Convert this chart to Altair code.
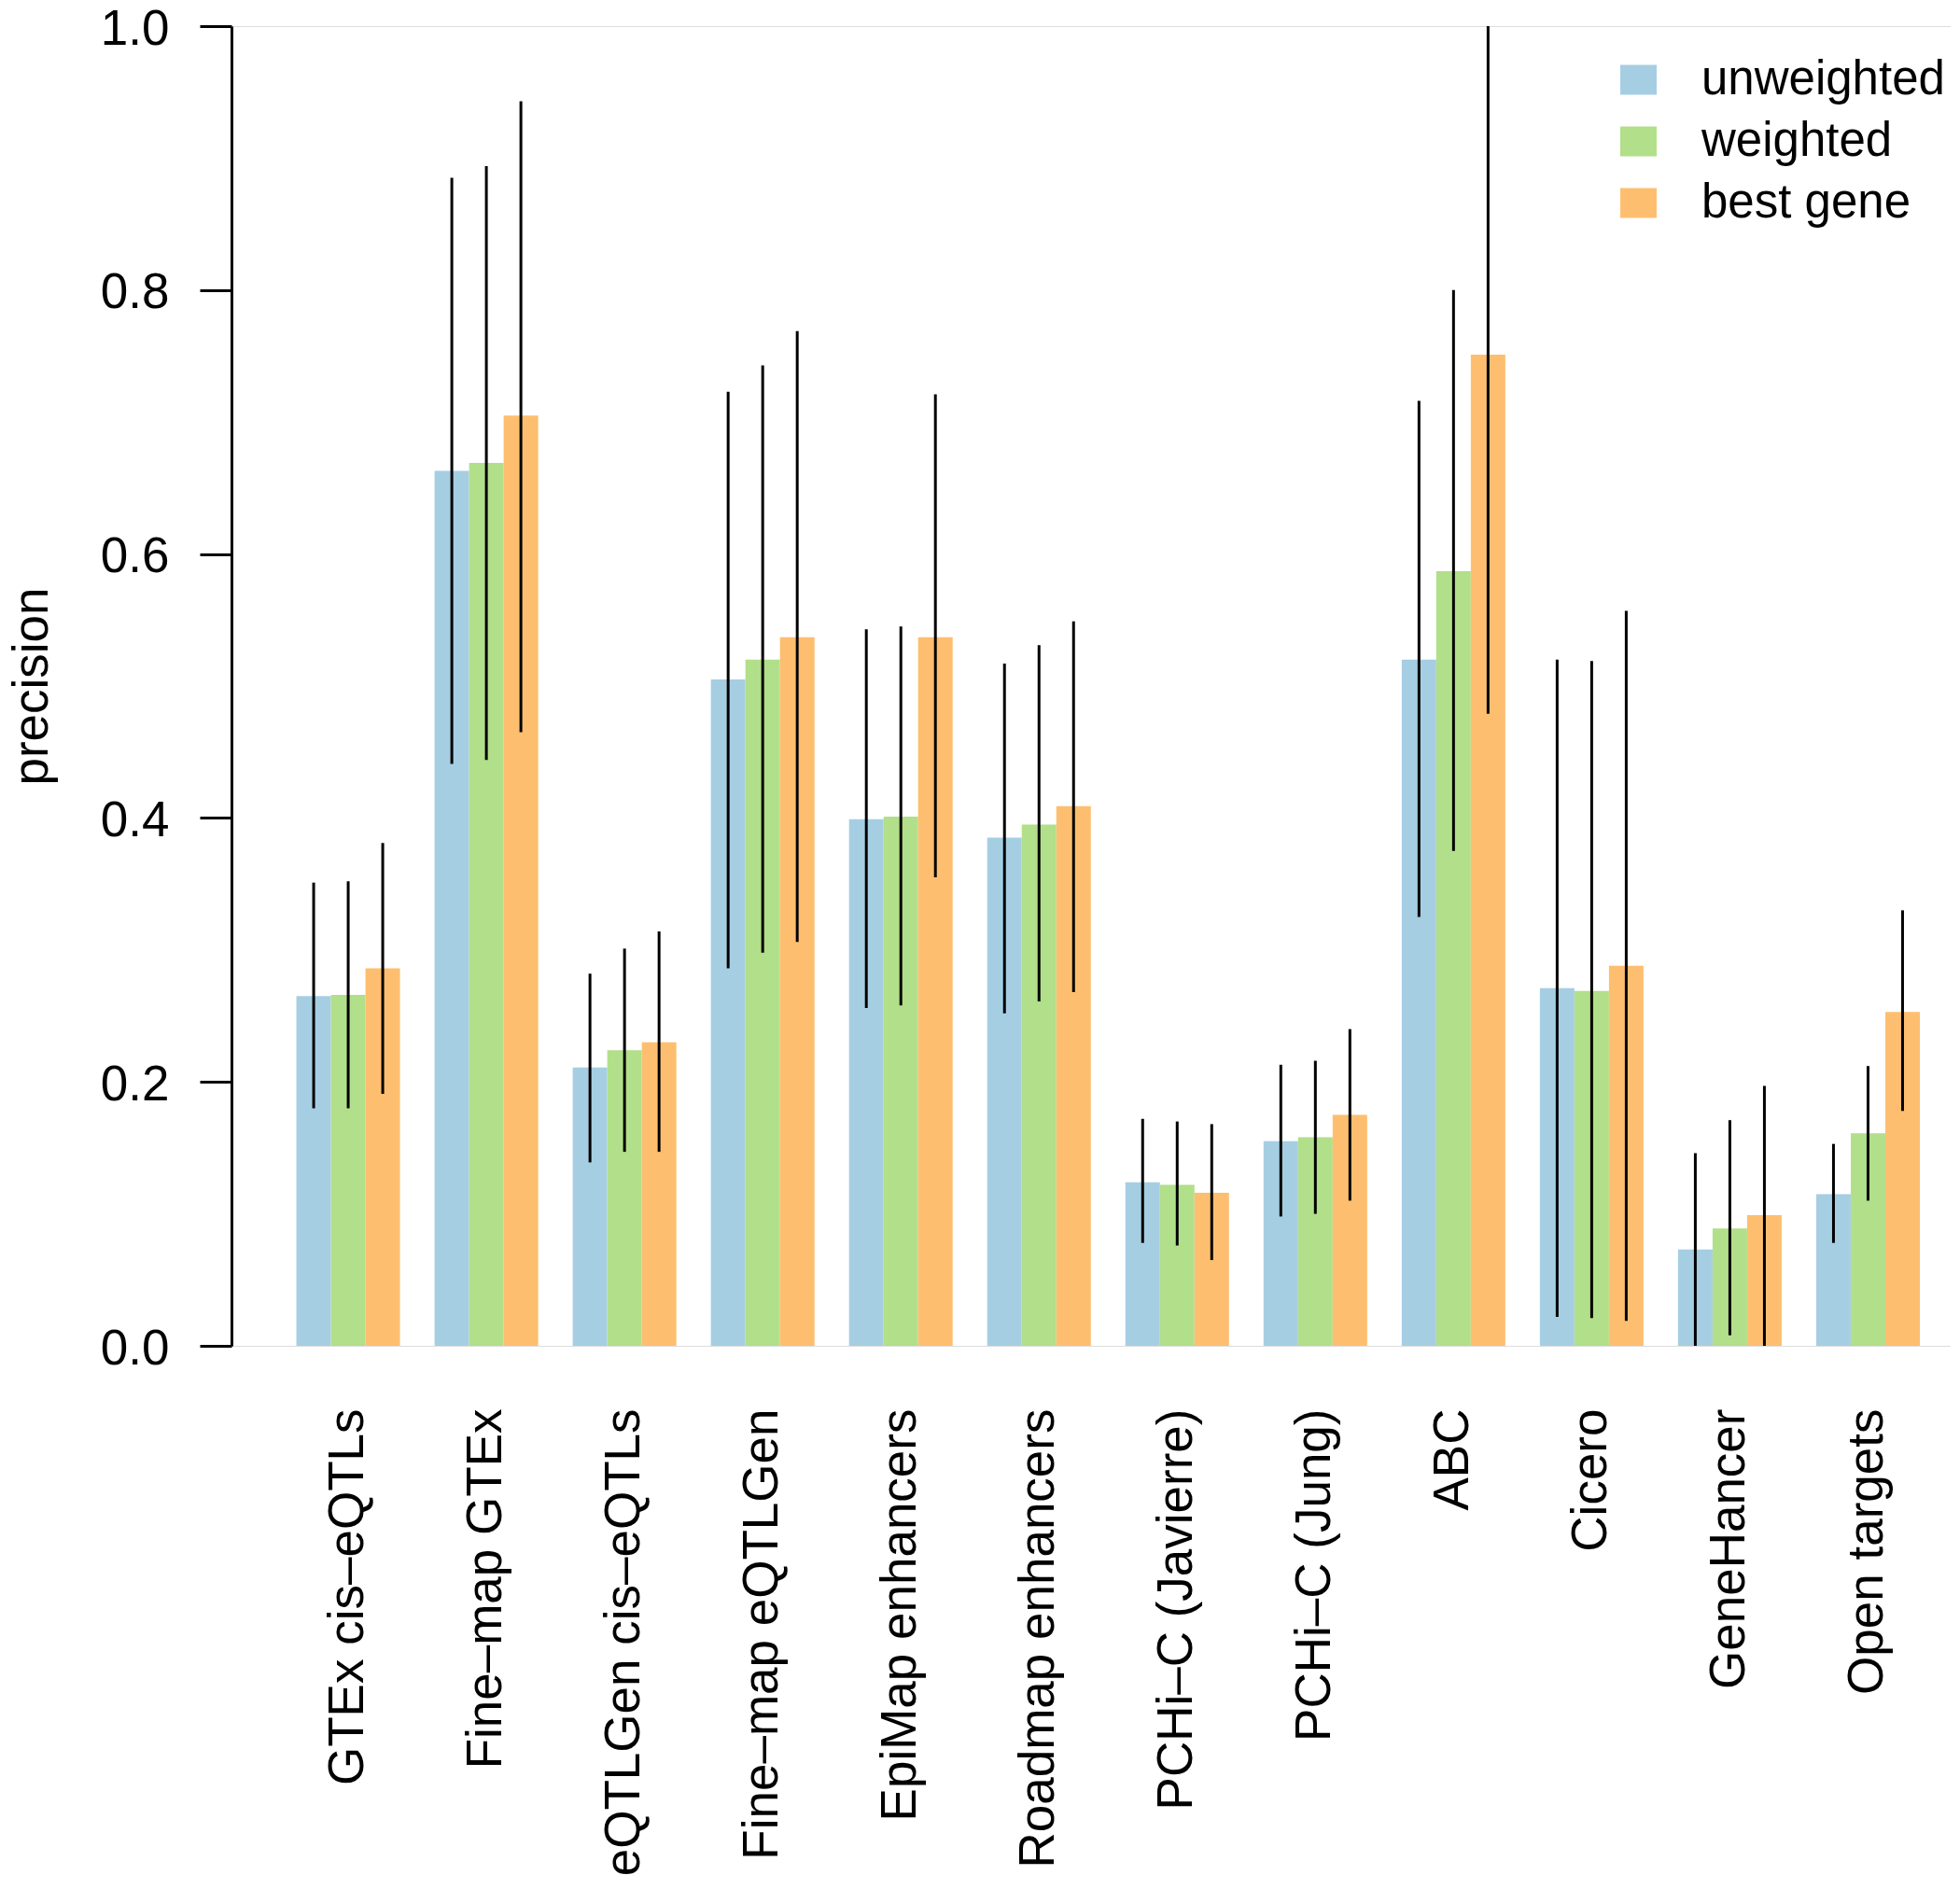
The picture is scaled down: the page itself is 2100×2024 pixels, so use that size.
import altair as alt
import pandas as pd

categories = ["GTEx cis–eQTLs", "Fine–map GTEx", "eQTLGen cis–eQTLs", "Fine–map eQTLGen",
              "EpiMap enhancers", "Roadmap enhancers", "PCHi–C (Javierre)", "PCHi–C (Jung)",
              "ABC", "Cicero", "GeneHancer", "Open targets"]
methods = ["unweighted", "weighted", "best gene"]
colors = ["#A6CEE3", "#B2DF8A", "#FDBF6F"]

unweighted = [0.265, 0.663, 0.211, 0.505, 0.399, 0.385, 0.124, 0.155, 0.520, 0.271, 0.073, 0.115]
unweighted_lo = [0.180, 0.441, 0.139, 0.286, 0.256, 0.252, 0.078, 0.098, 0.325, 0.022, 0.000, 0.078]
unweighted_hi = [0.351, 0.885, 0.282, 0.723, 0.543, 0.517, 0.172, 0.213, 0.716, 0.520, 0.146, 0.153]

weighted = [0.266, 0.669, 0.224, 0.520, 0.401, 0.395, 0.122, 0.158, 0.587, 0.269, 0.089, 0.161]
weighted_lo = [0.180, 0.444, 0.147, 0.298, 0.258, 0.261, 0.076, 0.100, 0.375, 0.021, 0.008, 0.110]
weighted_hi = [0.352, 0.894, 0.301, 0.743, 0.545, 0.531, 0.170, 0.216, 0.800, 0.519, 0.171, 0.212]

best_gene = [0.286, 0.705, 0.230, 0.537, 0.537, 0.409, 0.116, 0.175, 0.751, 0.288, 0.099, 0.253]
best_gene_lo = [0.191, 0.465, 0.147, 0.306, 0.355, 0.268, 0.065, 0.110, 0.479, 0.019, 0.000, 0.178]
best_gene_hi = [0.381, 0.943, 0.314, 0.769, 0.721, 0.549, 0.168, 0.240, 1.000, 0.557, 0.197, 0.330]

series = {
    "unweighted": (unweighted, unweighted_lo, unweighted_hi),
    "weighted": (weighted, weighted_lo, weighted_hi),
    "best gene": (best_gene, best_gene_lo, best_gene_hi),
}
rows = []
for m in methods:
    v, lo, hi = series[m]
    for i, c in enumerate(categories):
        rows.append({"category": c, "method": m, "value": v[i], "lo": lo[i], "hi": hi[i]})
df = pd.DataFrame(rows)

FONT = "Liberation Sans"
FS = 53

base = alt.Chart(df).encode(
    x=alt.X("category:N", sort=categories,
            scale=alt.Scale(paddingInner=0.25, paddingOuter=0.3465, align=0.678),
            axis=alt.Axis(title=None, labelAngle=270, labelAlign="right", labelBaseline="middle",
                          labelPadding=67, ticks=False, tickSize=0, domain=False,
                          labelFontSize=FS, labelFont=FONT, labelColor="black", labelLimit=0)),
    xOffset=alt.XOffset("method:N", sort=methods, scale=alt.Scale(paddingInner=0, paddingOuter=0)),
)

bars = base.mark_bar(opacity=1, strokeWidth=0).encode(
    y=alt.Y("value:Q", scale=alt.Scale(domain=[0, 1], nice=False, zero=True),
            axis=alt.Axis(values=[0, 0.2, 0.4, 0.6, 0.8, 1.0], format=".1f", grid=False,
                          tickSize=34, tickWidth=3, domainWidth=3, tickColor="black",
                          domainColor="black", labelPadding=33, labelFontSize=FS, labelFont=FONT,
                          labelColor="black", labelBaseline="middle", labelOffset=3,
                          title="precision", titleFontSize=FS, titleFont=FONT,
                          titleFontWeight="normal", titleColor="black", titleAngle=270,
                          titleX=-198, titleY=707, titleBaseline="alphabetic", titleAlign="center")),
    color=alt.Color("method:N", sort=methods,
                    scale=alt.Scale(domain=methods, range=colors),
                    legend=alt.Legend(title=None, orient="none", legendX=1482, legendY=32,
                                      symbolType="M-1,-0.82H1V0.82H-1Z", symbolSize=1521,
                                      symbolStrokeWidth=0, symbolOpacity=1,
                                      labelFontSize=51, labelFont=FONT, labelColor="black",
                                      labelOffset=42, rowPadding=14, padding=0, labelLimit=0)),
)

rules = base.mark_rule(color="black", strokeWidth=3).encode(
    y="lo:Q",
    y2="hi:Q",
)

chart = alt.layer(bars, rules).properties(
    width=1842,
    height=1414,
    autosize=alt.AutoSizeParams(type="none"),
    padding={"left": 240, "top": 20, "right": 0, "bottom": 570},
).configure_view(stroke=None).configure(font=FONT)

chart.save("out.html", embed_options={"renderer": "svg", "actions": False})
